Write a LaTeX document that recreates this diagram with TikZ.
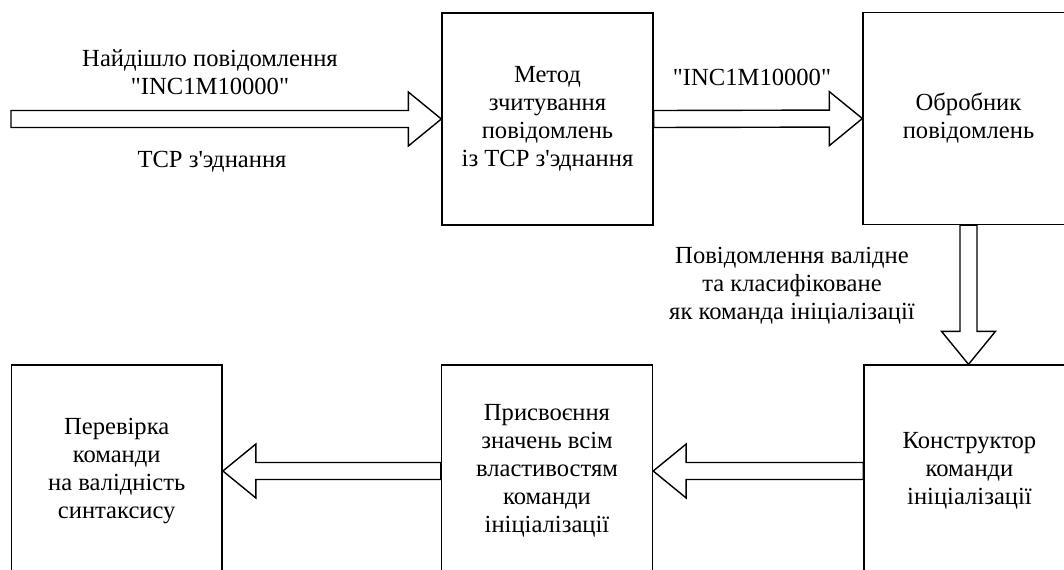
\documentclass[tikz,border=0pt]{standalone}
\usepackage{fontspec}
\setmainfont{Liberation Serif}
\usetikzlibrary{calc}

\tikzset{
	blok/.style={draw, line width=.8pt, minimum width=4.22cm, minimum height=4.24cm, inner sep=0pt, align=center},
	napys/.style={align=center, inner sep=1pt},
	blokstr/.style={draw, line width=.8pt},
}
% block arrow from #1 to the tip #2
\newcommand{\strilka}[2]{%
	\draw[blokstr] ($(#1)!\shw!90:(#2)$) -- ($(#2)!\hdl!(#1)!\shw!-90:(#1)$)
	-- ($(#2)!\hdl!(#1)!\hdw!-90:(#1)$) -- (#2)
	-- ($(#2)!\hdl!(#1)!\hdw!90:(#1)$) -- ($(#2)!\hdl!(#1)!\shw!90:(#1)$)
	-- ($(#1)!\shw!-90:(#2)$) -- cycle;}
\newcommand{\kod}{\textquotedbl INC1M10000\textquotedbl}

\begin{document}
\begin{tikzpicture}[x=0.02cm, y=-0.02cm, font=\fontsize{14}{16}\selectfont]
	\def\shw{0.17cm}
	\def\hdw{0.54cm}
	\def\hdl{0.66cm}
	\useasboundingbox (0,0) rectangle (1064,569);
	\clip (0,0) rectangle (1064,569);
	% blocks
	\node[blok] (metod) at (547.5,119) {Метод\\зчитування\\повідомлень\\із TCP з\textquotesingle эднання};
	\node[blok] (obrob) at (968.5,118.5) {Обробник\\повідомлень};
	\node[blok] (konstr) at (969.5,471) {Конструктор\\команди\\ініціалізації};
	\node[blok] (prysv) at (547,471) {Присвоєння\\значень всім\\властивостям\\команди\\ініціалізації};
	\node[blok] (perev) at (116.7,471) {Перевірка\\команди\\на валідність\\синтаксису};
	% labels
	\node[napys] (nadijshlo) at (210,72) {Найдішло повідомлення\\\kod};
	\node[napys] (tcp) at (212,162) {TCP з\textquotesingle эднання};
	\node[napys] (inc) at (752,77) {\kod};
	\node[napys] (valid) at (792,286) {Повідомлення валідне\\та класифіковане\\як команда ініціалізації};
	% ends of the arrows
	\path
	(11,119) coordinate (pochatok)
	(obrob.south) coordinate (b-niz)
	(b-niz |- konstr.north) coordinate (k-verh)
	;
	\strilka{pochatok}{metod.west}
	\strilka{metod.east}{obrob.west}
	\strilka{b-niz}{k-verh}
	\strilka{konstr.west}{prysv.east}
	\strilka{prysv.west}{perev.east}
\end{tikzpicture}
\end{document}
